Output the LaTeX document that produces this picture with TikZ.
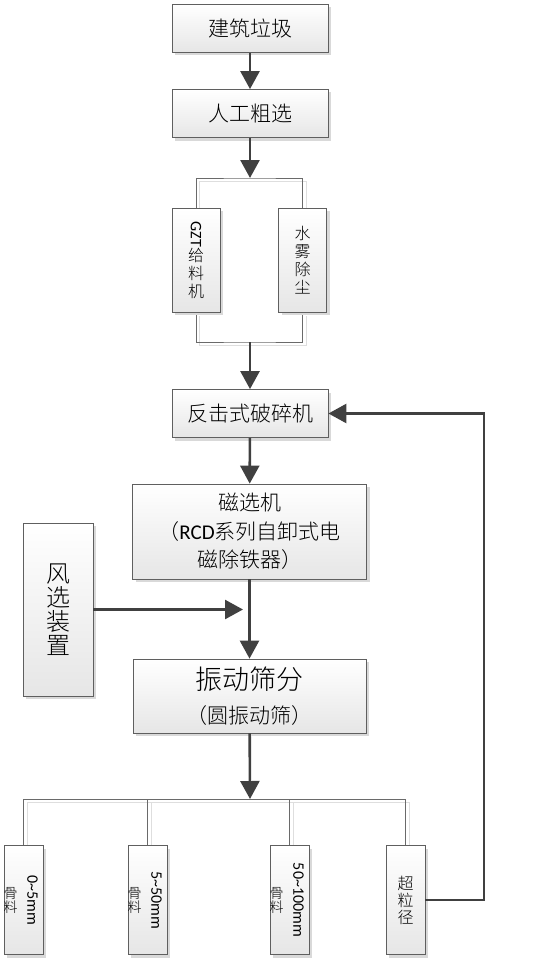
\documentclass[tikz,border=0pt]{standalone}
\usepackage{fontspec}
\setmainfont{Noto Sans CJK SC}[UprightFont={* Light}]
\newfontfamily\lat{Carlito}
\usetikzlibrary{arrows.meta,shadows,backgrounds}
\definecolor{boxline}{HTML}{5F5F5F}
\definecolor{boxgray}{HTML}{E6E6E6}
\definecolor{shadowgray}{HTML}{D9D9D9}
\definecolor{arrowgray}{HTML}{404040}
\definecolor{linkgray}{HTML}{6A6A6A}
\definecolor{linkshade}{HTML}{DEDEDE}

\begin{document}
\begin{tikzpicture}[x=1pt,y=-1pt,
    box/.style={draw=boxline, line width=0.8pt, top color=white, bottom color=boxgray,
      general shadow={fill=shadowgray, shadow xshift=3pt, shadow yshift=-3pt},
      inner sep=0pt, align=center},
    widebox/.style={box, minimum width=156pt, minimum height=48pt, font=\fontsize{21}{24}\selectfont},
    tallbox/.style={box, minimum width=48pt, minimum height=104pt, font=\fontsize{16}{18}\selectfont},
    slimbox/.style={box, minimum width=39pt, minimum height=109pt, font=\fontsize{16}{17}\selectfont},
    flow/.style={draw=arrowgray, line width=2.6pt, -{Triangle[length=18pt,width=19pt]}},
    link/.style={draw=linkgray, line width=0.8pt,
      preaction={draw=linkshade, line width=0.8pt, transform canvas={shift={(3.5pt,-3.5pt)}}}},
    sizetext/.style={font=\lat\fontsize{16}{18}\selectfont, rotate=-90, inner sep=0pt},
    gutext/.style={font=\fontsize{14}{14}\selectfont, align=center, inner sep=0pt}]
  \useasboundingbox (0,0) rectangle (542,963);

  % upper chain
  \node[widebox] (laji) at (250,28.5) {建筑垃圾};
  \node[widebox] (rengong) at (250,113.5) {人工粗选};
  \node[tallbox] (geiliao) at (196,260) {\rotatebox{-90}{\lat GZT}\\给\\料\\机};
  \node[tallbox] (shuiwu) at (302.5,260) {水\\雾\\除\\尘};
  \node[widebox] (posui) at (250,413.5) {反击式破碎机};
  \node[box, minimum width=234pt, minimum height=95pt, font=\fontsize{21}{28.5}\selectfont]
    (cixuan) at (249.5,531.5) {磁选机\\（{\lat RCD}系列自卸式电\\磁除铁器）};
  \node[box, minimum width=70pt, minimum height=173pt, font=\fontsize{24}{24}\selectfont]
    (fengxuan) at (58,609.5) {风\\选\\装\\置};
  \node[box, minimum width=233pt, minimum height=74pt, font=\fontsize{21}{34}\selectfont]
    (shaifen) at (249.5,696) {{\fontsize{27}{34}\selectfont 振动筛分}\\（圆振动筛）};

  % screened products
  \node[slimbox] (gu1) at (23.5,900) {};
  \node[slimbox] (gu2) at (147.5,900) {};
  \node[slimbox] (gu3) at (289.5,900) {};
  \node[slimbox] (chao) at (405.5,900) {超\\粒\\径};
  \foreach \g/\s in {gu1/{0\textasciitilde5mm}, gu2/{5\textasciitilde50mm}, gu3/{50\textasciitilde100mm}}{
    \begin{scope}
      \clip (\g.north west) rectangle (\g.south east);
      \node[sizetext] (\g s) at ([xshift=9pt]\g.center) {\s};
      \node[gutext] (\g t) at ([xshift=-13pt]\g.center) {骨\\料};
    \end{scope}
  }

  \coordinate (fenA) at (250,178);
  \coordinate (heB) at (250,342);
  \coordinate (feng) at (243,609.5);
  \coordinate (fenC) at (250,799);
  \coordinate (huiliu) at (484,413.5);

  % thin branch lines
  \begin{scope}[on background layer]
    \draw[link] (geiliao.north) |- (fenA) -| (shuiwu.north);
    \draw[link] (geiliao.south) |- (heB) -| (shuiwu.south);
    \draw[link] (gu1.north) |- (fenC) -| (chao.north);
    \draw[link] (gu2.north) -- (gu2.north |- fenC);
    \draw[link] (gu3.north) -- (gu3.north |- fenC);
  \end{scope}

  % main flow
  \draw[flow] (laji) -- (rengong);
  \draw[flow] (rengong) -- (fenA);
  \draw[flow] (heB) -- (posui);
  \draw[flow] (posui) -- (cixuan);
  \draw[flow] (cixuan) -- (shaifen);
  \draw[flow] (fengxuan) -- (feng);
  \draw[flow] (shaifen) -- (fenC);
  \draw[flow] (chao.east) -| (huiliu) -- (posui.east);
\end{tikzpicture}
\end{document}
